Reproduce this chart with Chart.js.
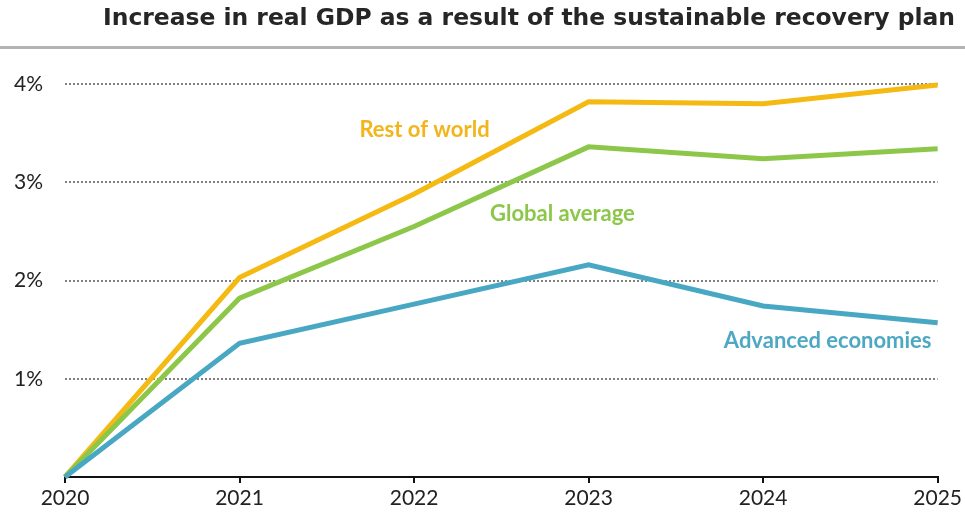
<!DOCTYPE html>
<html>
<head>
<meta charset="utf-8">
<script src="https://cdn.jsdelivr.net/npm/chart.js@4.4.1/dist/chart.umd.min.js"></script>
<style>
  html, body { margin: 0; padding: 0; background: #fff; }
  #wrap { position: relative; width: 965px; height: 514px; }
</style>
</head>
<body>
<div id="wrap"><canvas id="gdpChart" width="965" height="514"></canvas></div>
<script>
// Real GDP uplift (%) vs. baseline, by year
const years = ["2020", "2021", "2022", "2023", "2024", "2025"];
const restOfWorld = [0, 2.03, 2.88, 3.82, 3.80, 3.99];
const globalAverage = [0, 1.82, 2.55, 3.36, 3.24, 3.34];
const advancedEconomies = [0, 1.36, 1.76, 2.16, 1.74, 1.57];
const yTicks = [0, 1, 2, 3, 4];

const COLORS = { world: "#F5B914", global: "#8CC74A", advanced: "#48A7C2" };

// series name, anchor (category index, value) and colour for the inline labels
const seriesLabels = [
    { text: "Rest of world", at: [2.06, 3.53], color: "#F2B51C" },
    { text: "Global average", at: [2.85, 2.68], color: "#8CC74A" },
    { text: "Advanced economies", at: [4.37, 1.39], color: "#4FA8C3" }
];

const TITLE = "Increase in real GDP as a result of the sustainable recovery plan";

const headerPlugin = {
    id: "header",
    afterDraw(chart) {
        const ctx = chart.ctx;
        ctx.save();
        ctx.font = "bold 23px 'DejaVu Sans'";
        ctx.fillStyle = "#262626";
        ctx.textAlign = "left";
        ctx.textBaseline = "middle";
        // fit the title between x=103 and x=955
        const w = ctx.measureText(TITLE).width;
        ctx.translate(103, 19);
        ctx.scale(852 / w, 1);
        ctx.fillText(TITLE, 0, 0);
        ctx.restore();
        ctx.save();
        ctx.fillStyle = "#b3b3b3";
        ctx.fillRect(0, 46, chart.width, 3);
        ctx.restore();
    }
};

const seriesLabelPlugin = {
    id: "seriesLabels",
    afterDatasetsDraw(chart) {
        const { ctx, scales: { x, y } } = chart;
        ctx.save();
        ctx.font = "bold 22px Lato";
        ctx.textAlign = "center";
        ctx.textBaseline = "middle";
        seriesLabels.forEach(lbl => {
            ctx.fillStyle = lbl.color;
            ctx.fillText(lbl.text, x.getPixelForValue(lbl.at[0]), y.getPixelForValue(lbl.at[1]));
        });
        ctx.restore();
    }
};

function lineSet(label, data, color) {
    return {
        label, data,
        borderColor: color,
        backgroundColor: color,
        borderWidth: 5,
        pointRadius: 0,
        tension: 0,
        clip: false
    };
}

new Chart(document.getElementById("gdpChart"), {
    type: "line",
    data: {
        labels: years,
        datasets: [
            lineSet("Advanced economies", advancedEconomies, COLORS.advanced),
            lineSet("Global average", globalAverage, COLORS.global),
            lineSet("Rest of world", restOfWorld, COLORS.world)
        ]
    },
    options: {
        responsive: false,
        animation: false,
        layout: { padding: { top: 84, right: 27, left: 0, bottom: 0 } },
        plugins: { legend: { display: false }, tooltip: { enabled: false } },
        scales: {
            x: {
                offset: false,
                afterFit: s => { s.height = 37; },
                border: { display: true, color: "#111", width: 2 },
                grid: { drawOnChartArea: false, drawTicks: true, tickLength: 6, color: "#111", lineWidth: 2 },
                ticks: { color: "#222", font: { family: "Lato", size: 21 }, padding: 3, maxRotation: 0 }
            },
            y: {
                min: 0,
                max: 4,
                afterFit: s => { s.width = 65; },
                afterBuildTicks: s => { s.ticks = yTicks.map(v => ({ value: v })); },
                border: { display: false, dash: [2, 2] },
                grid: {
                    drawTicks: false,
                    color: ctx => ctx.tick && ctx.tick.value === 0 ? "rgba(0,0,0,0)" : "#7f7f7f",
                    lineWidth: 2
                },
                ticks: {
                    color: "#222",
                    font: { family: "Lato", size: 21 },
                    padding: 22,
                    callback: v => v === 0 ? "" : v + "%"
                }
            }
        }
    },
    plugins: [headerPlugin, seriesLabelPlugin]
});
</script>
</body>
</html>
